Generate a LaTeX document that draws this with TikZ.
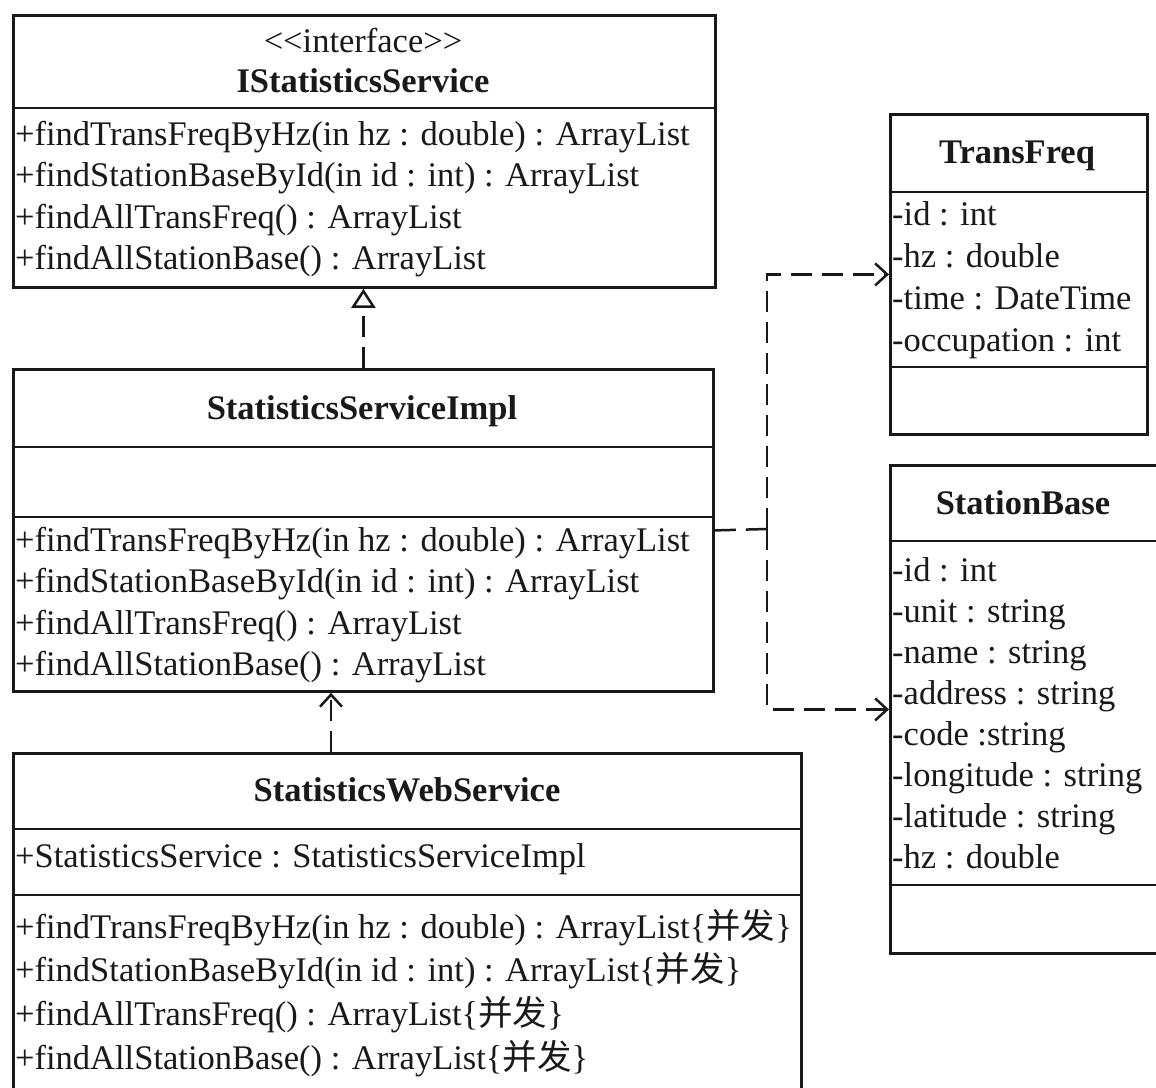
\documentclass[tikz,border=0pt]{standalone}
\usepackage{fontspec}
\setmainfont{Liberation Serif}
\newfontfamily\cjk{Noto Sans CJK SC}
\usetikzlibrary{arrows.meta}
\begin{document}
\begin{tikzpicture}[x=1pt,y=-1pt,
  classbox/.style={draw=black!90, line width=2.8pt, anchor=north west, inner sep=0pt},
  divider/.style={draw=black!90, line width=2.8pt},
  mtext/.style={anchor=base west, inner sep=0pt, font=\fontsize{34.5}{40}\selectfont, text=black!90},
  ttext/.style={anchor=base, inner sep=0pt, font=\fontsize{34.5}{40}\selectfont\bfseries, text=black!90},
  stext/.style={anchor=base, inner sep=0pt, font=\fontsize{34.5}{40}\selectfont, text=black!90},
  dep/.style={line width=2.5pt, dash pattern=on 21pt off 10pt, draw=black!90, -{Straight Barb[length=12pt,width=22pt,line width=2.5pt]}},
  depline/.style={line width=2.5pt, dash pattern=on 21pt off 10pt, draw=black!90},
  real/.style={line width=2.5pt, dash pattern=on 21pt off 10pt, draw=black!90, -{Triangle[open,length=19pt,width=24pt,line width=2.5pt]}},
]
\clip (0,0) rectangle (1156,1087);
\fill[white] (0,0) rectangle (1156,1087);

% ---------- IStatisticsService ----------
\node[classbox, minimum width=702pt, minimum height=272pt] (iss) at (12,14) {};
\draw[divider] (12,108) -- (714,108);
\node[stext] (iss-st) at (363,52) {<\kern0pt<interface>\kern0pt>};
\node[ttext] (iss-t) at (363,92) {IStatisticsService};
\foreach \t [count=\i] in {
  {+findTransFreqByHz(in hz : double) : ArrayList},
  {+findStationBaseById(in id : int) : ArrayList},
  {+findAllTransFreq() : ArrayList},
  {+findAllStationBase() : ArrayList}}
  \node[mtext] (iss-m\i) at (15,103.5+41.5*\i) {\t};

% ---------- StatisticsServiceImpl ----------
\node[classbox, minimum width=700pt, minimum height=322pt] (impl) at (12,368) {};
\draw[divider] (12,447) -- (712,447);
\draw[divider] (12,517) -- (712,517);
\node[ttext] (impl-t) at (362,419) {StatisticsServiceImpl};
\foreach \t [count=\i] in {
  {+findTransFreqByHz(in hz : double) : ArrayList},
  {+findStationBaseById(in id : int) : ArrayList},
  {+findAllTransFreq() : ArrayList},
  {+findAllStationBase() : ArrayList}}
  \node[mtext] (impl-m\i) at (15,509.5+41.5*\i) {\t};

% ---------- StatisticsWebService ----------
\node[classbox, minimum width=788pt, minimum height=345pt] (web) at (12,752) {};
\draw[divider] (12,829) -- (800,829);
\draw[divider] (12,895) -- (800,895);
\node[ttext] (web-t) at (407,801) {StatisticsWebService};
\node[mtext] (web-a1) at (15,867) {+StatisticsService : StatisticsServiceImpl};
\foreach \t [count=\i] in {
  {+findTransFreqByHz(in hz : double) : ArrayList\{{\cjk 并发}\}},
  {+findStationBaseById(in id : int) : ArrayList\{{\cjk 并发}\}},
  {+findAllTransFreq() : ArrayList\{{\cjk 并发}\}},
  {+findAllStationBase() : ArrayList\{{\cjk 并发}\}}}
  \node[mtext] (web-m\i) at (15,894.5+43.7*\i) {\t};

% ---------- TransFreq ----------
\node[classbox, minimum width=257pt, minimum height=320pt] (tf) at (889,113) {};
\draw[divider] (889,192) -- (1146,192);
\draw[divider] (889,367) -- (1146,367);
\node[ttext] (tf-t) at (1017,163) {TransFreq};
\foreach \t [count=\i] in {
  {-id : int},
  {-hz : double},
  {-time : DateTime},
  {-occupation : int}}
  \node[mtext] (tf-a\i) at (892,183+42*\i) {\t};

% ---------- StationBase ----------
\node[classbox, minimum width=272pt, minimum height=488pt] (sb) at (889,464) {};
\draw[divider] (889,541) -- (1161,541);
\draw[divider] (889,885) -- (1161,885);
\node[ttext] (sb-t) at (1023,514) {StationBase};
\foreach \t [count=\i] in {
  {-id : int},
  {-unit : string},
  {-name : string},
  {-address : string},
  {-code :string},
  {-longitude : string},
  {-latitude : string},
  {-hz : double}}
  \node[mtext] (sb-a\i) at (892,540+41.1*\i) {\t};

% ---------- Connectors ----------
\draw[real] (impl.north) -- (impl.north |- iss.south);
\coordinate (wa) at (331,752);
\draw[dep] (wa) -- (wa |- impl.south);
\coordinate (j) at (767,529);
\draw[depline] (impl.east) -- (j);
\draw[dep] (j) |- (tf.west);
\draw[dep] (j) |- (sb.west);
\end{tikzpicture}
\end{document}
